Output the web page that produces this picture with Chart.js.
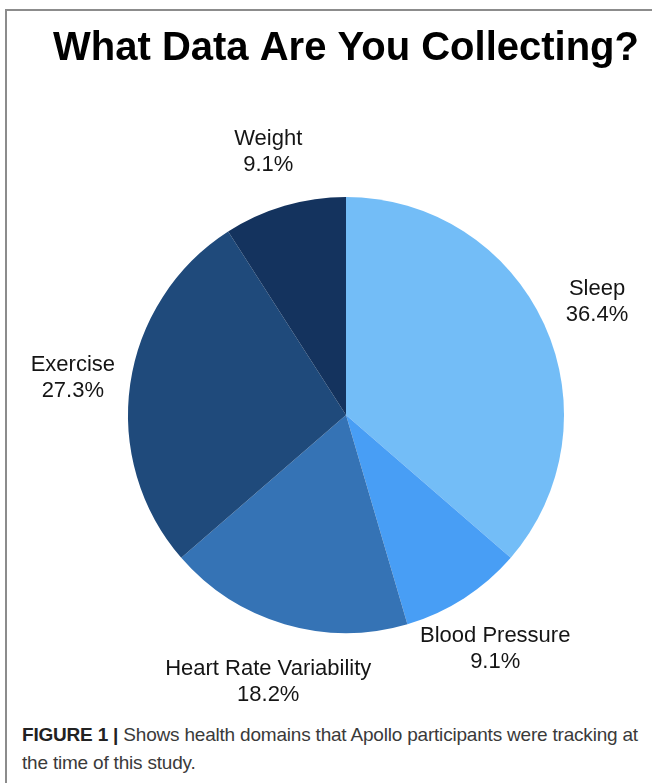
<!DOCTYPE html>
<html>
<head>
<meta charset="utf-8">
<script src="https://cdn.jsdelivr.net/npm/chart.js@4/dist/chart.umd.min.js"></script>
<style>
  body { margin: 0; background: #fff; overflow: hidden; width: 652px; height: 783px; position: relative; }
  #frame { position: absolute; left: 5px; top: 9px; width: 720px; height: 800px;
           border-left: 2px solid #8c8c8c; border-top: 2px solid #8c8c8c; }
  #wrap { position: absolute; left: 7px; top: 10px; width: 678px; height: 705px; }
  #caption { position: absolute; left: 22px; top: 721px; white-space: nowrap;
             font-family: "Liberation Sans", Arial, sans-serif; letter-spacing: -0.2px;
             font-size: 19px; line-height: 28px; color: #3a3a3a; }
  #caption b { color: #222; }
</style>
</head>
<body>
<div id="frame"></div>
<div id="wrap"><canvas id="grafico"></canvas></div>
<div id="caption"><b>FIGURE 1 |</b> Shows health domains that Apollo participants were tracking at<br>the time of this study.</div>
<script>
// dados do gráfico
const categorias = ["Sleep", "Blood Pressure", "Heart Rate Variability", "Exercise", "Weight"];
const valores = [4, 1, 2, 3, 1];
const percentuais = ["36.4%", "9.1%", "18.2%", "27.3%", "9.1%"];
const cores = ["#73bdf7", "#489ef5", "#3573b5", "#1f4a7b", "#14335e"];

// rótulos fora da pizza
const rotulosExternos = {
  id: "rotulosExternos",
  afterDatasetsDraw(chart) {
    const ctx = chart.ctx;
    const arcs = chart.getDatasetMeta(0).data;
    ctx.save();
    ctx.font = "22px 'Liberation Sans', Arial, sans-serif";
    ctx.fillStyle = "#151515";
    ctx.textAlign = "center";
    ctx.textBaseline = "middle";
    arcs.forEach(function (arc, i) {
      const p = arc.getProps(["x", "y", "startAngle", "endAngle", "outerRadius"], true);
      const meio = (p.startAngle + p.endAngle) / 2;
      const r = p.outerRadius * 1.266;
      const lx = p.x + Math.cos(meio) * r;
      const ly = p.y + Math.sin(meio) * r + 2;
      ctx.fillText(categorias[i], lx, ly - 13);
      ctx.fillText(percentuais[i], lx, ly + 13);
    });
    ctx.restore();
  },
};

new Chart(document.getElementById("grafico").getContext("2d"), {
  type: "pie",
  data: {
    labels: categorias,
    datasets: [
      {
        data: valores,
        backgroundColor: cores,
        borderWidth: 0,
        hoverOffset: 0,
      },
    ],
  },
  options: {
    responsive: true,
    maintainAspectRatio: false,
    animation: false,
    events: [],
    layout: { padding: { top: 0, bottom: 82, left: 20, right: 20 } },
    plugins: {
      legend: { display: false },
      tooltip: { enabled: false },
      title: {
        display: true,
        text: "What Data Are You Collecting?",
        color: "#000",
        font: { family: "'Liberation Sans', Arial, sans-serif", size: 40, weight: "bold", lineHeight: 1.2 },
        padding: { top: 15, bottom: 124 },
      },
    },
  },
  plugins: [rotulosExternos],
});
</script>
</body>
</html>
